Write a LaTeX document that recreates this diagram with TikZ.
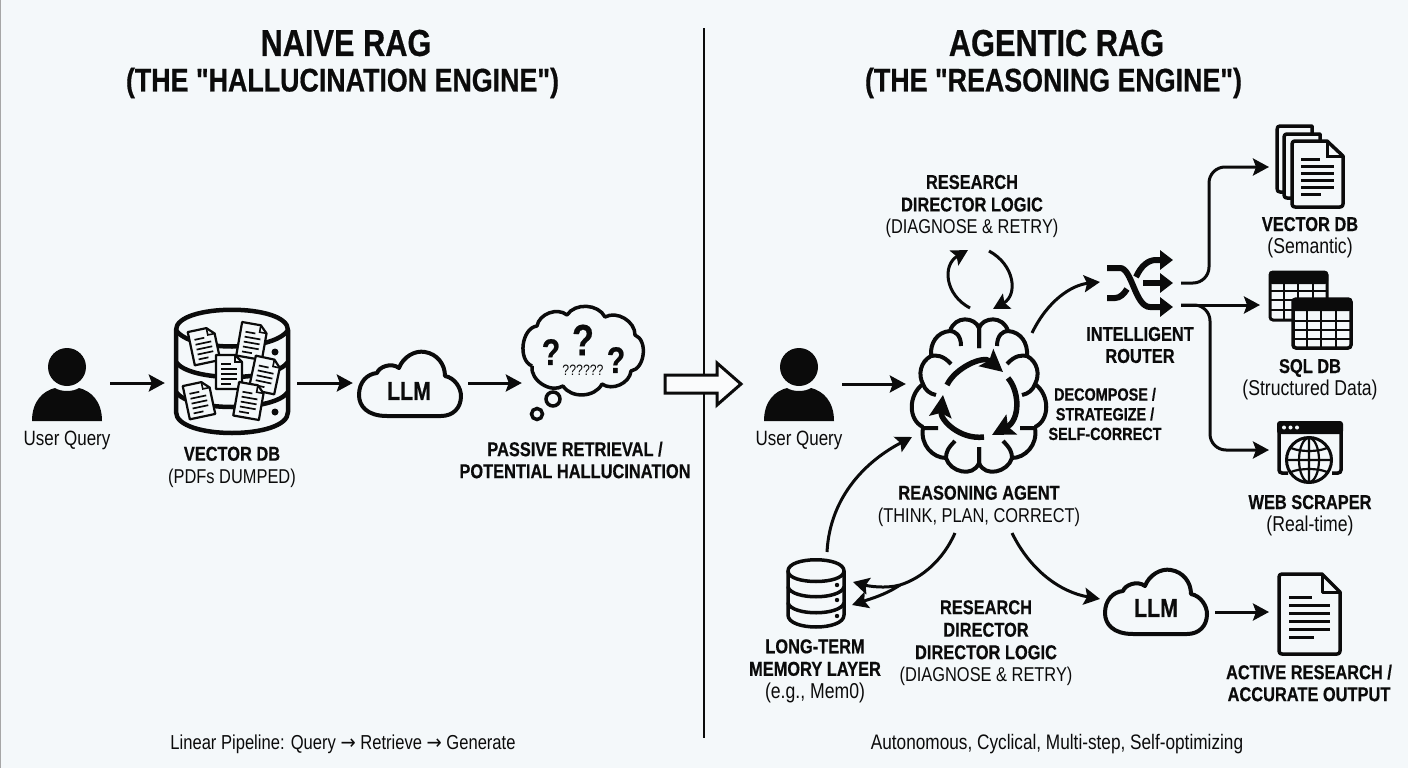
\documentclass[tikz,border=0pt]{standalone}
\usepackage{fontspec}
\setmainfont[FakeStretch=0.82,BoldFeatures={FakeStretch=0.82,FakeBold=0.5}]{Liberation Sans}
\newfontfamily\plainf[FakeStretch=0.82,BoldFeatures={FakeStretch=0.82,FakeBold=0.5}]{Liberation Sans}
\newfontfamily\arwf[FakeStretch=0.9]{DejaVu Sans}
\newcommand\lcs[1]{{\fontsize{21.5}{22.5}\selectfont #1}}
\newcommand\arwc{{\arwf →}}
\usetikzlibrary{arrows.meta}
\definecolor{bgc}{HTML}{F4F8FA}
\definecolor{ink}{HTML}{0B0B0B}
\tikzset{
 txt/.style={align=center,inner sep=0pt,text=ink,font=\fontsize{20}{22.5}\selectfont},
 dn/.style={yshift=-2.5pt},
 ttl/.style={align=center,inner sep=0pt,text=ink,font=\fontsize{37.5}{38}\selectfont\bfseries},
 ttlb/.style={ttl,font=\fontsize{32.7}{36}\selectfont\plainf\bfseries},
 port/.style={inner sep=0pt,minimum width=#1,minimum height=20pt,rectangle},
 arr/.style={-{Stealth[length=16pt,width=17pt,inset=3pt]},line width=3pt,draw=ink},
 ln/.style={line width=3.5pt,draw=ink,line cap=round,line join=round},
 person/.pic={
  \fill[ink] (0,-18) circle (19);
  \fill[ink] (-35,36) .. controls (-35,16) and (-24,6) .. (-12,3) .. controls (-6,7) and (6,7) .. (12,3) .. controls (24,6) and (35,16) .. (35,36) -- cycle;
 },
 minidoc/.pic={
  \draw[line width=2.2pt,draw=ink,fill=bgc,line join=round] (-13,-17) -- (6,-17) -- (13,-10) -- (13,17) -- (-13,17) -- cycle;
  \draw[line width=1.6pt,draw=ink] (6,-17) -- (6,-10) -- (13,-10);
  \draw[line width=1.7pt,draw=ink] (-8,-8) -- (2,-8) (-8,-3) -- (8,-3) (-8,2) -- (8,2) (-8,7) -- (8,7) (-8,12) -- (2,12);
 },
 llmcloud/.pic={
  \draw[line width=4pt,draw=ink,fill=none,line join=round]
   (-22,24) .. controls (-42,24) and (-50,14) .. (-50,3) .. controls (-50,-10) and (-42,-18) .. (-32,-19)
   .. controls (-30,-25) and (-18,-30) .. (-10,-24) .. controls (-6,-35) and (6,-42) .. (16,-40)
   .. controls (28,-38) and (36,-28) .. (36,-16) .. controls (46,-14) and (52,-4) .. (52,4)
   .. controls (52,16) and (44,24) .. (32,24) -- cycle;
 },
 halfbrain/.pic={
  \draw[line width=4pt,draw=ink,line cap=butt,line join=round,fill=none]
   (0,-55) -- (0,-75) .. controls (4,-86) and (24,-88) .. (29,-72)
   (18,-57) .. controls (18,-68) and (24,-72) .. (29,-72) .. controls (42,-71) and (49,-60) .. (48,-47)
   (28,-39) .. controls (36,-48) and (43,-48) .. (48,-47) .. controls (59,-41) and (61,-28) .. (56,-19)
   (43,-8) .. controls (49,-9) and (54,-13) .. (56,-19) .. controls (71,-8) and (71,17) .. (56,24)
   (41,25) -- (56,25) .. controls (59,42) and (46,55) .. (33,55)
   (24,38) .. controls (31,45) and (33,49) .. (33,55) .. controls (29,69) and (6,75) .. (0,60) -- (0,44);
 },
}
\begin{document}
\begin{tikzpicture}[x=1pt,y=-1pt]
\useasboundingbox (0,0) rectangle (1408,768);
\fill[bgc] (0,0) rectangle (1408,768);
\fill[gray!70] (0,0) rectangle (1,768);

% titles
\node[ttl] (t1) at (346,43) {NAIVE RAG};
\node[ttlb] (t2) at (342.5,83) {(THE "HALLUCINATION ENGINE")};
\node[ttl] (t3) at (1056.5,43) {AGENTIC RAG};
\node[ttlb] (t4) at (1053.5,83) {(THE "REASONING ENGINE")};

% divider
\node[inner sep=0pt,minimum size=0pt] (divT) at (704,28) {};
\node[inner sep=0pt,minimum size=0pt] (divB) at (704,738) {};
\draw[line width=2.5pt,draw=ink] (divT) -- (divB);

% left pipeline
\pic at (67,385) {person};
\node[txt,dn,font=\fontsize{20.7}{22.5}\selectfont] (uq1) at (67,438) {User Query};
\node[port=80pt] (user1) at (70,383) {};
\node[port=132pt] (vdb1) at (231,383) {};
\node[port=115pt] (cloud1) at (410.5,383) {};
\node[port=124pt] (thought) at (584,383) {};
\draw[arr] (user1) -- (vdb1);
\draw[arr] (vdb1) -- (cloud1);
\draw[arr] (cloud1) -- (thought);

% big cylinder
\draw[line width=4.5pt,draw=ink,line join=round] (176,330) .. controls (176,303) and (288,303) .. (288,330) -- (288,412) .. controls (288,440) and (176,440) .. (176,412) -- cycle;
\draw[line width=4.5pt,draw=ink] (176,330) .. controls (190,352) and (274,352) .. (288,330);
\draw[line width=4.5pt,draw=ink] (176,362) .. controls (190,382) and (274,382) .. (288,362);
\draw[line width=4.5pt,draw=ink] (176,392) .. controls (190,412) and (274,412) .. (288,392);
\fill[ink] (275,352) circle (3.5);
\fill[ink] (275,412) circle (3.5);
\pic[rotate=12] at (204,346) {minidoc};
\pic[rotate=-10] at (252,341) {minidoc};
\pic[rotate=-12] at (265,375) {minidoc};
\pic at (229,372) {minidoc};
\pic[rotate=12] at (199,400) {minidoc};
\pic[rotate=-10] at (249,401) {minidoc};
\node[txt,dn] (vdbl1) at (232,464.5) {\textbf{VECTOR DB}\\(PDFs DUMPED)};

% LLM 1
\pic at (409,392) {llmcloud};
\node[inner sep=0pt,text=ink,font=\fontsize{26}{26}\selectfont\bfseries] (llm1) at (409,391) {LLM};

% thought
\draw[line width=3.5pt,draw=ink,line join=round]
 (532,366) to[bend left=75] (537,326) to[bend left=60] (567,315) to[bend left=60] (605,317)
 to[bend left=60] (635,335) to[bend left=75] (631,371) to[bend left=60] (602,384)
 to[bend left=60] (563,386) to[bend left=65] (532,366);
\draw[line width=3.5pt,draw=ink] (553,399) circle (7);
\draw[line width=3.5pt,draw=ink] (537,414) circle (5.5);
\node[inner sep=0pt,text=ink,font=\fontsize{37}{37}\selectfont\bfseries] (q1) at (551,352) {?};
\node[inner sep=0pt,text=ink,font=\fontsize{44}{44}\selectfont\bfseries] (q2) at (583,340) {?};
\node[inner sep=0pt,text=ink,font=\fontsize{37}{37}\selectfont\bfseries] (q3) at (616,360) {?};
\node[inner sep=0pt,text=ink,font=\fontsize{15}{15}\selectfont] (q4) at (583,370) {??????};
\node[txt,font=\fontsize{20}{22}\selectfont\bfseries] (pass) at (575,460) {PASSIVE RETRIEVAL /\\POTENTIAL HALLUCINATION};

% hollow arrow
\draw[line width=3pt,draw=ink,fill=bgc!50!white,line join=miter] (665,375) -- (717,375) -- (717,363) -- (741,384) -- (717,405) -- (717,393) -- (665,393) -- cycle;

% right: user
\pic at (799,385) {person};
\node[txt,dn,font=\fontsize{20.7}{22.5}\selectfont] (uq2) at (799,438) {User Query};
\node[port=84pt] (user2) at (800,384) {};
\node[port=146pt] (brain) at (979,384) {};
\draw[arr] (user2) -- (brain);

% brain
\pic at (979,403) {halfbrain};
\pic[xscale=-1] at (979,403) {halfbrain};
\coordinate (cyA1) at (947,385);
\coordinate (cyA2) at (1003,372);
\coordinate (cyB1) at (1008,378);
\coordinate (cyB2) at (992,435);
\coordinate (cyC1) at (984,437);
\coordinate (cyC2) at (943,395);
\begin{scope}[-{Stealth[length=22pt,width=22pt,inset=4pt]}]
\draw[line width=5.5pt,draw=ink] (cyA1) .. controls (955,368) and (983,355) .. (cyA2);
\draw[line width=5.5pt,draw=ink] (cyB1) .. controls (1020,392) and (1020,420) .. (cyB2);
\draw[line width=5.5pt,draw=ink] (cyC1) .. controls (960,440) and (940,420) .. (cyC2);
\end{scope}

% loop on top
\coordinate (lpA1) at (970,308);
\coordinate (lpA2) at (968,250);
\coordinate (lpB1) at (989,251);
\coordinate (lpB2) at (993,309);
\draw[arr] (lpA1) .. controls (945,295) and (942,265) .. (lpA2);
\draw[arr] (lpB1) .. controls (1015,265) and (1018,295) .. (lpB2);
\node[txt,dn] (rd1) at (972,204) {\textbf{RESEARCH}\\\textbf{DIRECTOR LOGIC}\\(DIAGNOSE \& RETRY)};

\node[txt,font=\fontsize{17.6}{19.7}\selectfont\bfseries] (dec) at (1105,414) {DECOMPOSE /\\STRATEGIZE /\\SELF-CORRECT};
\node[txt,dn] (ra) at (979,503.5) {\textbf{REASONING AGENT}\\(THINK, PLAN, CORRECT)};

% router
\draw[line width=6pt,draw=ink,-{Stealth[length=13pt,width=19pt,inset=0pt]}] (1107,268) -- (1120,268) .. controls (1132,268) and (1135,307) .. (1150,307) -- (1173,307);
\draw[line width=6pt,draw=ink] (1107,298) -- (1115,298) .. controls (1120,298) and (1124,294) .. (1127,289);
\draw[line width=6pt,draw=ink,-{Stealth[length=13pt,width=19pt,inset=0pt]}] (1136,277) .. controls (1141,266) and (1148,260) .. (1156,260) -- (1173,260);
\draw[line width=6pt,draw=ink,-{Stealth[length=13pt,width=19pt,inset=0pt]}] (1143,283) -- (1173,283);
\node[txt,font=\fontsize{20}{22}\selectfont\bfseries] (rl) at (1140,345) {INTELLIGENT\\ROUTER};
\coordinate (brainNE) at (1032,333);
\coordinate (routerIn) at (1100,282);
\draw[arr] (brainNE) .. controls (1048,300) and (1072,285) .. (routerIn);

\coordinate (rOut1) at (1181,283);
\coordinate (rOut2) at (1181,305);
\coordinate (vdb2In) at (1269,167);
\coordinate (sqlIn) at (1260,305);
\coordinate (webIn) at (1269,450);
\draw[arr,rounded corners=16pt] (rOut1) -- (1209,283) -- (1209,167) -- (vdb2In);
\draw[arr] (rOut2) -- (sqlIn);
\draw[arr,rounded corners=16pt] (rOut2) -- (1210,305) -- (1210,450) -- (webIn);

% stacked docs
\draw[ln,fill=bgc] (1277,130) .. controls (1277,127) and (1278,126) .. (1280,126) -- (1312,126) -- (1312,192) -- (1280,192) .. controls (1278,192) and (1277,191) .. (1277,188) -- cycle;
\draw[ln,fill=bgc] (1284,137) .. controls (1284,135) and (1285,134) .. (1287,134) -- (1320,134) -- (1320,198) -- (1287,198) .. controls (1285,198) and (1284,197) .. (1284,195) -- cycle;
\draw[ln,fill=bgc] (1292,144) .. controls (1292,142) and (1293,141) .. (1295,141) -- (1327,141) -- (1343,156) -- (1343,204) .. controls (1343,206) and (1342,207) .. (1340,207) -- (1295,207) .. controls (1293,207) and (1292,206) .. (1292,204) -- cycle;
\draw[line width=3pt,draw=ink] (1327,141) -- (1327,156) -- (1343,156);
\draw[line width=3pt,draw=ink] (1301,159) -- (1320,159) (1301,166) -- (1334,166) (1301,173) -- (1334,173) (1301,180) -- (1334,180) (1301,187) -- (1334,187) (1301,194) -- (1321,194);
\node[txt,dn] (vdbl2) at (1310,235) {\textbf{VECTOR DB}\\\lcs{(Semantic)}};

% SQL tables
\draw[line width=3pt,draw=ink,fill=bgc,rounded corners=3pt] (1270,272) rectangle (1327,320);
\fill[ink,rounded corners=3pt] (1269,271) rectangle (1328,284);
\draw[line width=2pt,draw=ink] (1269,291) -- (1327,291) (1269,300) -- (1327,300) (1269,310) -- (1327,310) (1284,284) -- (1284,320) (1298,284) -- (1298,320) (1313,284) -- (1313,320);
\draw[line width=3.5pt,draw=ink,fill=bgc,rounded corners=3pt] (1293,299) rectangle (1351,348);
\fill[ink,rounded corners=3pt] (1292,298) rectangle (1352,311);
\draw[line width=2.2pt,draw=ink] (1293,321) -- (1351,321) (1293,330) -- (1351,330) (1293,339) -- (1351,339) (1307,311) -- (1307,348) (1321,311) -- (1321,348) (1336,311) -- (1336,348);
\node[txt,dn] (sqll) at (1310,377) {\textbf{SQL DB}\\\lcs{(Structured Data)}};

% web
\draw[line width=3.5pt,draw=ink,rounded corners=3pt] (1288,473) -- (1279,473) -- (1279,423) -- (1341,423) -- (1341,473) -- (1332,473);
\fill[ink,rounded corners=3pt] (1277,421) rectangle (1343,434);
\fill[bgc] (1284,427.5) circle (2) (1290.5,427.5) circle (2) (1297,427.5) circle (2);
\draw[line width=3pt,draw=ink,fill=bgc] (1309,460) circle (22.5);
\draw[line width=2.2pt,draw=ink] (1309,460) ellipse [x radius=10,y radius=22];
\draw[line width=2.2pt,draw=ink] (1309,438) -- (1309,482) (1287,460) -- (1331,460) (1291,448) .. controls (1300,452) and (1318,452) .. (1327,448) (1291,472) .. controls (1300,468) and (1318,468) .. (1327,472);
\node[txt,dn] (webl) at (1310,513) {\textbf{WEB SCRAPER}\\\lcs{(Real-time)}};

% memory
\draw[ln,fill=bgc] (788,571) .. controls (788,556) and (844,556) .. (844,571) -- (844,615) .. controls (844,631) and (788,631) .. (788,615) -- cycle;
\draw[ln] (788,571) .. controls (788,585) and (844,585) .. (844,571);
\draw[ln] (788,587) .. controls (792,600) and (840,600) .. (844,587);
\draw[ln] (788,603) .. controls (792,616) and (840,616) .. (844,603);
\fill[ink] (837,585) circle (2.2) (837,600) circle (2.2) (837,616) circle (2.2);
\node[txt,dn] (meml) at (815,668.5) {\textbf{LONG-TERM}\\\textbf{MEMORY LAYER}\\\lcs{(e.g., Mem0)}};
\node[txt,dn] (rd2) at (986,640.5) {\textbf{RESEARCH}\\\textbf{DIRECTOR}\\\textbf{DIRECTOR LOGIC}\\(DIAGNOSE \& RETRY)};

\coordinate (memT) at (827,552);
\coordinate (brainSW) at (912,437);
\coordinate (brainS1) at (955,533);
\coordinate (brainS2) at (1012,533);
\coordinate (memE1) at (853,582);
\coordinate (memE2) at (852,605);
\coordinate (fork) at (900,585);
\draw[arr] (memT) .. controls (830,495) and (868,460) .. (brainSW);
\draw[arr] (brainS1) .. controls (943,560) and (922,578) .. (fork) .. controls (885,589) and (868,586) .. (memE1);
\draw[arr] (fork) .. controls (885,595) and (870,599) .. (memE2);

% LLM 2, output
\pic at (1155,610) {llmcloud};
\node[inner sep=0pt,text=ink,font=\fontsize{26}{26}\selectfont\bfseries] (llm2) at (1156,608) {LLM};
\coordinate (llm2W) at (1100,599);
\draw[arr] (brainS2) .. controls (1030,570) and (1060,592) .. (llm2W);
\coordinate (llm2E) at (1215,612);
\coordinate (docW) at (1269,612);
\draw[arr] (llm2E) -- (docW);

\draw[ln,fill=bgc] (1279,577) .. controls (1279,575) and (1280,574) .. (1282,574) -- (1322,574) -- (1340,592) -- (1340,651) .. controls (1340,653) and (1339,654) .. (1337,654) -- (1282,654) .. controls (1280,654) and (1279,653) .. (1279,651) -- cycle;
\draw[line width=3pt,draw=ink,line join=round] (1322,574) -- (1322,592) -- (1340,592);
\draw[line width=3pt,draw=ink] (1289,597) -- (1312,597) (1289,605) -- (1330,605) (1289,613) -- (1330,613) (1289,621) -- (1330,621) (1289,629) -- (1330,629) (1289,637) -- (1314,637);
\node[txt,font=\fontsize{20}{22}\selectfont\bfseries] (outl) at (1309,683) {ACTIVE RESEARCH /\\ACCURATE OUTPUT};

% footers
\node[txt,dn,font=\fontsize{20.2}{22}\selectfont] (f1) at (343,742) {Linear Pipeline: Query \arwc{} Retrieve \arwc{} Generate};
\node[txt,dn,font=\fontsize{21}{22}\selectfont] (f2) at (1057,742) {Autonomous, Cyclical, Multi-step, Self-optimizing};
\end{tikzpicture}
\end{document}
